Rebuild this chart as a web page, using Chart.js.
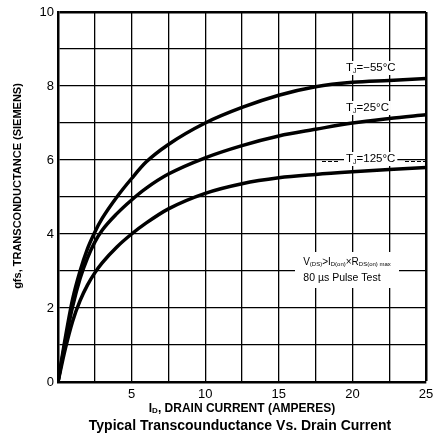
<!DOCTYPE html>
<html>
<head>
<meta charset="utf-8">
<script src="https://cdn.jsdelivr.net/npm/chart.js@4.4.1/dist/chart.umd.min.js"></script>
<style>
  html, body { margin: 0; padding: 0; background: #fff; }
  #wrap { width: 440px; height: 439px; }
</style>
</head>
<body>
<div id="wrap"><canvas id="chart" width="440" height="439"></canvas></div>
<script>
// Typical transconductance vs drain current, three junction temperatures

const drainCurrent = [0, 0.5, 1, 1.5, 2, 2.5, 3, 4, 5, 6, 7.5, 10, 12.5, 15, 17.5, 20, 22.5, 25];
const gfsMinus55 = [0, 1.2, 2.25, 3.0, 3.6, 4.05, 4.42, 5.0, 5.5, 5.95, 6.42, 7.0, 7.42, 7.75, 7.98, 8.1, 8.15, 8.2];
const gfs25 = [0, 1.1, 2.05, 2.8, 3.35, 3.78, 4.1, 4.55, 4.92, 5.24, 5.62, 6.06, 6.39, 6.65, 6.83, 7.0, 7.12, 7.22];
const gfs125 = [0, 0.9, 1.65, 2.2, 2.62, 2.95, 3.22, 3.65, 4.0, 4.3, 4.68, 5.1, 5.36, 5.52, 5.61, 5.68, 5.74, 5.8];

const xTickLabels = [5, 10, 15, 20, 25];
const yTickLabels = [0, 2, 4, 6, 8, 10];

const FONT = '"Liberation Sans", Arial, Helvetica, sans-serif';

function toPoints(ys) {
    return drainCurrent.map((x, i) => ({ x: x, y: ys[i] }));
}

function curve(label, ys) {
    return {
        label: label,
        data: toPoints(ys),
        borderColor: '#000',
        borderWidth: 3.5,
        pointRadius: 0,
        fill: false,
        cubicInterpolationMode: 'monotone'
    };
}

// draw a run of text pieces, some of them subscript
function drawRuns(ctx, x, y, runs, align) {
    let total = 0;
    runs.forEach(r => {
        ctx.font = r.font;
        r.w = ctx.measureText(r.t).width;
        total += r.w;
    });
    let cx = align === 'center' ? x - total / 2 : x;
    ctx.textAlign = 'left';
    ctx.textBaseline = 'middle';
    runs.forEach(r => {
        ctx.font = r.font;
        ctx.fillText(r.t, cx, y + (r.dy || 0));
        cx += r.w;
    });
}

const labelsPlugin = {
    id: 'labelsPlugin',
    afterDatasetsDraw(chart) {
        const ctx = chart.ctx;
        ctx.save();
        ctx.fillStyle = '#000';

        const lab = '11.5px ' + FONT;
        const sub = '7px ' + FONT;
        const tj = [
            { y: 68, txt: '=\u221255\u00b0C' },
            { y: 108, txt: '=25\u00b0C' },
            { y: 159, txt: '=125\u00b0C' }
        ];
        tj.forEach(o => {
            const runs = [
                { t: 'T', font: lab },
                { t: 'J', font: sub, dy: 3 },
                { t: o.txt, font: lab }
            ];
            let w = 0;
            runs.forEach(r => { ctx.font = r.font; w += ctx.measureText(r.t).width; });
            ctx.fillStyle = '#fff';
            ctx.fillRect(344, o.y - 7, w + 4, 14);
            ctx.fillStyle = '#000';
            drawRuns(ctx, 346, o.y, runs, 'left');
        });

        // leader for the 125 C label
        ctx.strokeStyle = '#000';
        ctx.lineWidth = 1;
        ctx.setLineDash([4, 2]);
        ctx.beginPath();
        ctx.moveTo(322, 161.5); ctx.lineTo(340, 161.5);
        ctx.moveTo(405, 161.5); ctx.lineTo(425, 161.5);
        ctx.stroke();
        ctx.setLineDash([]);

        // test condition note
        ctx.fillStyle = '#fff';
        ctx.fillRect(295, 252, 104, 36);
        ctx.fillStyle = '#000';
        const nf = '10px ' + FONT;
        const ns = '6px ' + FONT;
        drawRuns(ctx, 347, 262, [
            { t: 'V', font: nf },
            { t: '(DS)', font: ns, dy: 2 },
            { t: '>I', font: nf },
            { t: 'D(on)', font: ns, dy: 2 },
            { t: '\u00d7R', font: nf },
            { t: 'DS(on)', font: ns, dy: 2 },
            { t: ' max', font: ns, dy: 2 }
        ], 'center');
        drawRuns(ctx, 342, 278, [
            { t: '80 \u00b5s Pulse Test', font: '10.5px ' + FONT }
        ], 'center');

        // axis titles and caption
        const bold = 'bold 12px ' + FONT;
        drawRuns(ctx, 242, 409, [
            { t: 'I', font: bold },
            { t: 'D', font: 'bold 8px ' + FONT, dy: 2 },
            { t: ', DRAIN CURRENT (AMPERES)', font: bold }
        ], 'center');

        ctx.font = 'bold 14px ' + FONT;
        ctx.textAlign = 'center';
        ctx.textBaseline = 'middle';
        ctx.fillText('Typical Transcounductance Vs. Drain Current', 240, 426);

        ctx.translate(18, 186);
        ctx.rotate(-Math.PI / 2);
        ctx.font = 'bold 11px ' + FONT;
        ctx.fillText('gfs, TRANSCONDUCTANCE (SIEMENS)', 0, 0);

        ctx.restore();
    }
};

new Chart(document.getElementById('chart'), {
    type: 'line',
    data: {
        datasets: [
            curve('TJ = -55 C', gfsMinus55),
            curve('TJ = 25 C', gfs25),
            curve('TJ = 125 C', gfs125)
        ]
    },
    options: {
        responsive: false,
        animation: false,
        layout: { padding: { top: 12, right: 14, left: 0, bottom: 0 } },
        plugins: {
            legend: { display: false },
            tooltip: { enabled: false }
        },
        scales: {
            x: {
                type: 'linear',
                min: 0,
                max: 25,
                afterFit(scale) { scale.height = 57; },
                border: { color: '#000', width: 2.5 },
                grid: {
                    color: '#000',
                    lineWidth: c => (c.tick && c.tick.value === 25 ? 2.5 : 1.3),
                    drawTicks: false
                },
                ticks: {
                    stepSize: 2.5,
                    padding: 5,
                    maxRotation: 0,
                    autoSkip: false,
                    color: '#000',
                    font: { family: FONT, size: 13 },
                    callback: v => (xTickLabels.includes(v) ? String(v) : '')
                }
            },
            y: {
                min: 0,
                max: 10,
                afterFit(scale) { scale.width = 58; },
                border: { color: '#000', width: 2.5 },
                grid: {
                    color: '#000',
                    lineWidth: c => (c.tick && c.tick.value === 10 ? 2.5 : 1.3),
                    drawTicks: false
                },
                ticks: {
                    stepSize: 1,
                    padding: 4,
                    autoSkip: false,
                    color: '#000',
                    font: { family: FONT, size: 13 },
                    callback: v => (yTickLabels.includes(v) ? String(v) : '')
                }
            }
        }
    },
    plugins: [labelsPlugin]
});
</script>
</body>
</html>
